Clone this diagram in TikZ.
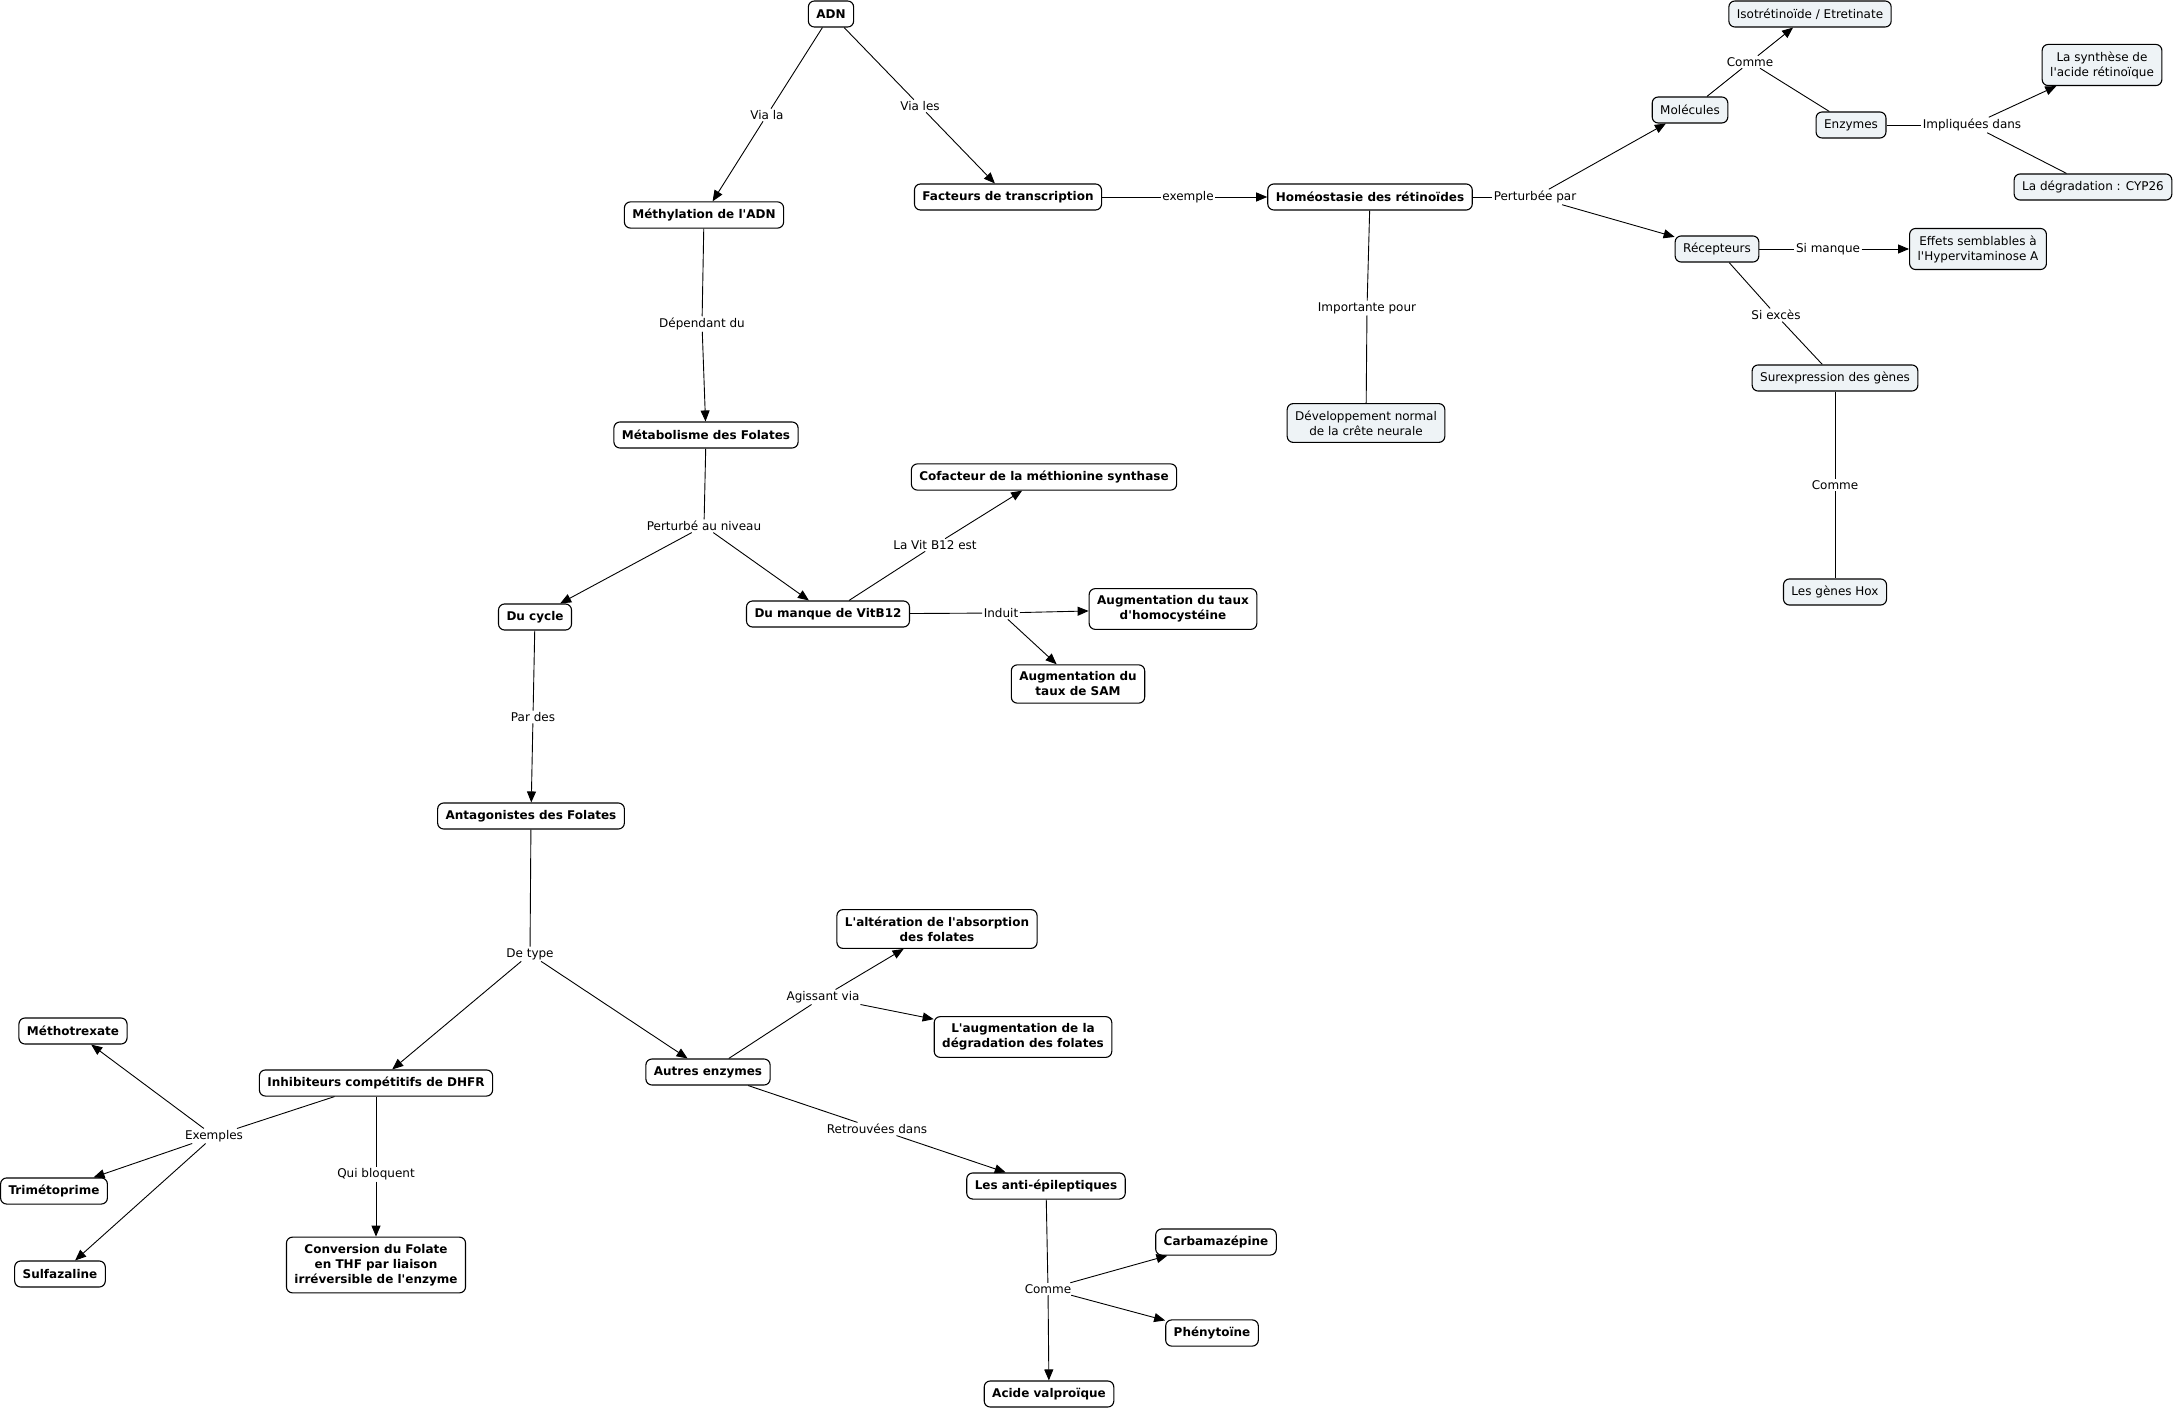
\documentclass[tikz,border=0pt]{standalone}
\usepackage{fontspec}
\setmainfont[Ligatures=TeXOff]{DejaVu Sans}
\usetikzlibrary{arrows.meta}
\definecolor{cfill}{HTML}{EEF3F6}
\begin{document}
\begin{tikzpicture}[x=1pt,y=-1pt,
 cbox/.style={draw, rounded corners=6pt, line width=1.1pt, fill=white, inner xsep=8pt, inner ysep=7pt, minimum height=26pt, align=center, font=\fontsize{12}{15}\selectfont\bfseries},
 lbox/.style={cbox, fill=cfill, font=\fontsize{12}{15}\selectfont},
 lab/.style={fill=white, inner sep=1.5pt, font=\fontsize{12}{15}\selectfont},
 ln/.style={line width=0.9pt},
 ar/.style={ln, -{Triangle[length=11pt,width=9pt]}}
]
\useasboundingbox (0,0) rectangle (2176,1412);
% concepts
\node[cbox] (adn) at (831,14) {ADN};
\node[cbox] (meth) at (704,215) {Méthylation de l'ADN};
\node[cbox] (fact) at (1008,197) {Facteurs de transcription};
\node[cbox] (homeo) at (1370,197) {Homéostasie des rétinoïdes};
\node[lbox] (mol) at (1690,110) {Molécules};
\node[lbox] (iso) at (1810,14) {Isotrétinoïde / Etretinate};
\node[lbox] (enz) at (1851,125) {Enzymes};
\node[lbox] (synth) at (2102,65) {La synthèse de\\l'acide rétinoïque};
\node[lbox] (degr) at (2093,187) {La dégradation : CYP26};
\node[lbox] (rec) at (1717,249) {Récepteurs};
\node[lbox] (eff) at (1978,249) {Effets semblables à\\l'Hypervitaminose A};
\node[lbox] (surex) at (1835,378) {Surexpression des gènes};
\node[lbox] (hox) at (1835,592) {Les gènes Hox};
\node[lbox] (dev) at (1366,423) {Développement normal\\de la crête neurale};
\node[cbox] (metab) at (706,435) {Métabolisme des Folates};
\node[cbox] (cofa) at (1044,477) {Cofacteur de la méthionine synthase};
\node[cbox] (cycle) at (535,617) {Du cycle};
\node[cbox] (manque) at (828,614) {Du manque de VitB12};
\node[cbox] (homoc) at (1173,609) {Augmentation du taux\\d'homocystéine};
\node[cbox] (sam) at (1078,684) {Augmentation du\\taux de SAM};
\node[cbox] (antag) at (531,816) {Antagonistes des Folates};
\node[cbox] (alter) at (937,929) {L'altération de l'absorption\\des folates};
\node[cbox] (augm) at (1023,1037) {L'augmentation de la\\dégradation des folates};
\node[cbox] (autres) at (708,1072) {Autres enzymes};
\node[cbox] (inhib) at (376,1083) {Inhibiteurs compétitifs de DHFR};
\node[cbox] (metho) at (73,1031) {Méthotrexate};
\node[cbox] (trime) at (54,1191) {Trimétoprime};
\node[cbox] (sulfa) at (60,1274) {Sulfazaline};
\node[cbox] (conv) at (376,1265) {Conversion du Folate\\en THF par liaison\\irréversible de l'enzyme};
\node[cbox] (anti) at (1046,1186) {Les anti-épileptiques};
\node[cbox] (carba) at (1216,1242) {Carbamazépine};
\node[cbox] (pheny) at (1212,1333) {Phénytoïne};
\node[cbox] (valpro) at (1049,1394) {Acide valproïque};
% link labels
\node[lab] (lvla) at (767,115) {Via la};
\node[lab] (lvles) at (920,106) {Via les};
\node[lab] (lex) at (1188,197) {exemple};
\node[lab] (lpert) at (1535,197) {Perturbée par};
\node[lab] (lcom1) at (1750,62) {Comme};
\node[lab] (limpl) at (1972,125) {Impliquées dans};
\node[lab] (lsim) at (1828,249) {Si manque};
\node[lab] (lsie) at (1776,315) {Si excès};
\node[lab] (lcom2) at (1835,485) {Comme};
\node[lab] (limp) at (1367,308) {Importante pour};
\node[lab] (ldep) at (702,324) {Dépendant du};
\node[lab] (lpau) at (704,526) {Perturbé au niveau};
\node[lab] (lvit) at (935,545) {La Vit B12 est};
\node[lab] (lind) at (1001,613) {Induit};
\node[lab] (lpar) at (533,717) {Par des};
\node[lab] (ltype) at (530,954) {De type};
\node[lab] (lagi) at (823,997) {Agissant via};
\node[lab] (lexs) at (214,1136) {Exemples};
\node[lab] (lqui) at (376,1174) {Qui bloquent};
\node[lab] (lret) at (877,1129) {Retrouvées dans};
\node[lab] (lcom3) at (1048,1289) {Comme};
% connectors
\draw[ln] (adn) -- (lvla); \draw[ar] (lvla) -- (meth);
\draw[ln] (adn) -- (lvles); \draw[ar] (lvles) -- (fact);
\draw[ln] (fact) -- (lex); \draw[ar] (lex) -- (homeo);
\draw[ln] (homeo) -- (lpert); \draw[ar] (lpert) -- (mol); \draw[ar] (lpert) -- (rec);
\draw[ln] (mol) -- (lcom1); \draw[ar] (lcom1) -- (iso); \draw[ln] (lcom1) -- (enz);
\draw[ln] (enz) -- (limpl); \draw[ar] (limpl) -- (synth); \draw[ln] (limpl) -- (degr);
\draw[ln] (rec) -- (lsim); \draw[ar] (lsim) -- (eff);
\draw[ln] (rec) -- (lsie); \draw[ln] (lsie) -- (surex);
\draw[ln] (surex) -- (lcom2); \draw[ln] (lcom2) -- (hox);
\draw[ln] (homeo) -- (limp); \draw[ln] (limp) -- (dev);
\draw[ln] (meth) -- (ldep); \draw[ar] (ldep) -- (metab);
\draw[ln] (metab) -- (lpau); \draw[ar] (lpau) -- (cycle); \draw[ar] (lpau) -- (manque);
\draw[ln] (manque) -- (lvit); \draw[ar] (lvit) -- (cofa);
\draw[ln] (manque) -- (lind); \draw[ar] (lind) -- (homoc); \draw[ar] (lind) -- (sam);
\draw[ln] (cycle) -- (lpar); \draw[ar] (lpar) -- (antag);
\draw[ln] (antag) -- (ltype); \draw[ar] (ltype) -- (inhib); \draw[ar] (ltype) -- (autres);
\draw[ln] (autres) -- (lagi); \draw[ar] (lagi) -- (alter); \draw[ar] (lagi) -- (augm);
\draw[ln] (autres) -- (lret); \draw[ar] (lret) -- (anti);
\draw[ln] (anti) -- (lcom3); \draw[ar] (lcom3) -- (carba); \draw[ar] (lcom3) -- (pheny); \draw[ar] (lcom3) -- (valpro);
\draw[ln] (inhib) -- (lexs); \draw[ar] (lexs) -- (metho); \draw[ar] (lexs) -- (trime); \draw[ar] (lexs) -- (sulfa);
\draw[ln] (inhib) -- (lqui); \draw[ar] (lqui) -- (conv);
\end{tikzpicture}
\end{document}
